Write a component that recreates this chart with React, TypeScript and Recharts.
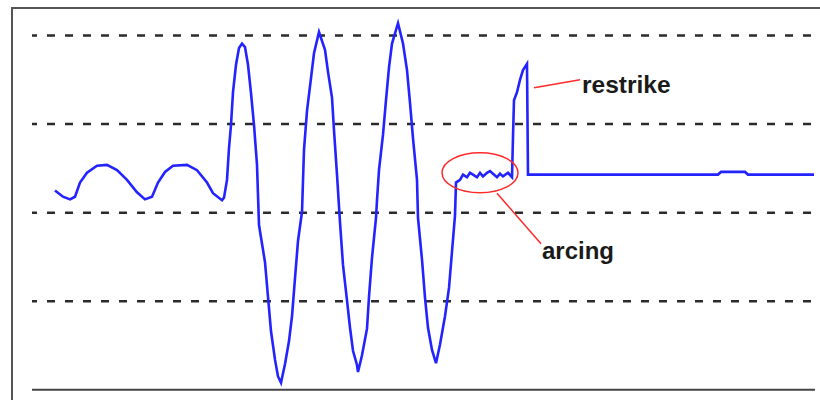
import {
  Line,
  LineChart,
  ReferenceDot,
  ReferenceLine,
  XAxis,
  YAxis,
} from "recharts";

const times = [
  23, 31, 38, 43, 48, 55, 65, 75, 85, 95, 105, 113, 120, 126, 133, 141, 155, 165, 175, 181, 190, 192,
  195, 197, 199, 201, 204, 207, 210, 213, 216, 219, 222, 225,
  227, 233, 236, 239, 243, 246, 249, 253, 257, 260, 263, 266, 270,
  272, 275, 279, 282, 287, 293, 296, 300, 302, 305,
  308, 311, 315, 318, 321, 325, 326, 330, 335, 337, 340, 344,
  345, 347, 351, 354, 357, 360, 366, 371, 375, 378, 381, 385,
  386, 390, 393, 396, 400, 404, 408, 413, 417, 420, 423, 424,
  428, 431, 435, 438, 441, 445, 448, 451, 455, 458, 461, 465, 468, 471, 476, 480,
  481, 482, 485, 488, 491, 495, 496, 686, 689, 713, 716, 782,
];
const volts = [
  0.25, 0.18, 0.15, 0.18, 0.34, 0.45, 0.53, 0.54, 0.48, 0.37, 0.23, 0.15, 0.18, 0.34, 0.46, 0.53, 0.54, 0.48, 0.34, 0.22, 0.14, 0.17,
  0.37, 0.73, 0.99, 1.36, 1.67, 1.86, 1.91, 1.87, 1.67, 1.35, 0.99, 0.54,
  -0.14, -0.56, -0.95, -1.34, -1.66, -1.85, -1.92, -1.71, -1.45, -1.17, -0.74, -0.32, 0.01,
  0.71, 1.15, 1.52, 1.8, 2.04, 1.84, 1.59, 1.3, 0.93, 0.43,
  -0.11, -0.59, -0.99, -1.3, -1.56, -1.72, -1.8, -1.61, -1.31, -0.95, -0.51, -0.06,
  0.14, 0.48, 0.88, 1.27, 1.64, 1.91, 2.14, 1.91, 1.61, 1.24, 0.84, 0.37,
  -0.06, -0.53, -0.96, -1.3, -1.55, -1.7, -1.49, -1.17, -0.85, -0.44, -0.03, 0.34,
  0.37, 0.43, 0.4, 0.45, 0.43, 0.4, 0.45, 0.41, 0.45, 0.47, 0.44, 0.4, 0.44, 0.41, 0.45, 0.4,
  0.86, 1.27, 1.36, 1.5, 1.61, 1.68, 0.43, 0.43, 0.46, 0.46, 0.43, 0.43,
];
const dashedLevels = [2, 1, 0, -1];

const data = times.map((t, i) => ({ t, v: volts[i] }));

const blue = "#2323ff";
const red = "#ff2a2a";
const labelFont = "'Liberation Sans', Arial, sans-serif";

export default function App() {
  return (
    <div style={{ position: "relative", width: 820, height: 400, background: "#fff", overflow: "hidden" }}>
      <style>{"body{margin:0}"}</style>
      <div
        style={{
          position: "absolute",
          left: 11,
          top: 7,
          width: 830,
          height: 420,
          borderTop: "2px solid #555",
          borderLeft: "2px solid #555",
        }}
      />
      <LineChart
        width={820}
        height={400}
        data={data}
        margin={{ top: 9, right: 0, bottom: 1.4, left: 32 }}
        style={{ position: "absolute", left: 0, top: 0 }}
      >
        <XAxis dataKey="t" type="number" domain={[0, 788]} hide />
        <YAxis type="number" domain={[-2.1, 2.3]} hide />
        {dashedLevels.map((y) => (
          <ReferenceLine
            key={y}
            y={y}
            stroke="#2b2b2b"
            strokeWidth={2.5}
            strokeDasharray="8 10"
            strokeDashoffset={3}
          />
        ))}
        <ReferenceLine
          segment={[
            { x: 0, y: -2 },
            { x: 783, y: -2 },
          ]}
          stroke="#444"
          strokeWidth={2}
        />
        <Line
          dataKey="v"
          type="linear"
          stroke={blue}
          strokeWidth={2.6}
          dot={false}
          isAnimationActive={false}
        />
        <ReferenceDot
          x={448}
          y={0.45}
          r={0}
          shape={(p: any) => (
            <ellipse cx={p.cx} cy={p.cy} rx={38} ry={20} fill="none" stroke={red} strokeWidth={1.5} />
          )}
        />
        <ReferenceLine
          segment={[
            { x: 465, y: 0.22 },
            { x: 509, y: -0.35 },
          ]}
          stroke={red}
          strokeWidth={1.5}
        />
        <ReferenceLine
          segment={[
            { x: 502, y: 1.41 },
            { x: 548, y: 1.5 },
          ]}
          stroke={red}
          strokeWidth={1.5}
        />
        <ReferenceDot
          x={550}
          y={1.35}
          r={0}
          shape={(p: any) => (
            <text x={p.cx} y={p.cy} fontFamily={labelFont} fontWeight="bold" fontSize={24.5} fill="#1a1a1a">
              restrike
            </text>
          )}
        />
        <ReferenceDot
          x={510}
          y={-0.52}
          r={0}
          shape={(p: any) => (
            <text x={p.cx} y={p.cy} fontFamily={labelFont} fontWeight="bold" fontSize={24} fill="#1a1a1a">
              arcing
            </text>
          )}
        />
      </LineChart>
    </div>
  );
}
